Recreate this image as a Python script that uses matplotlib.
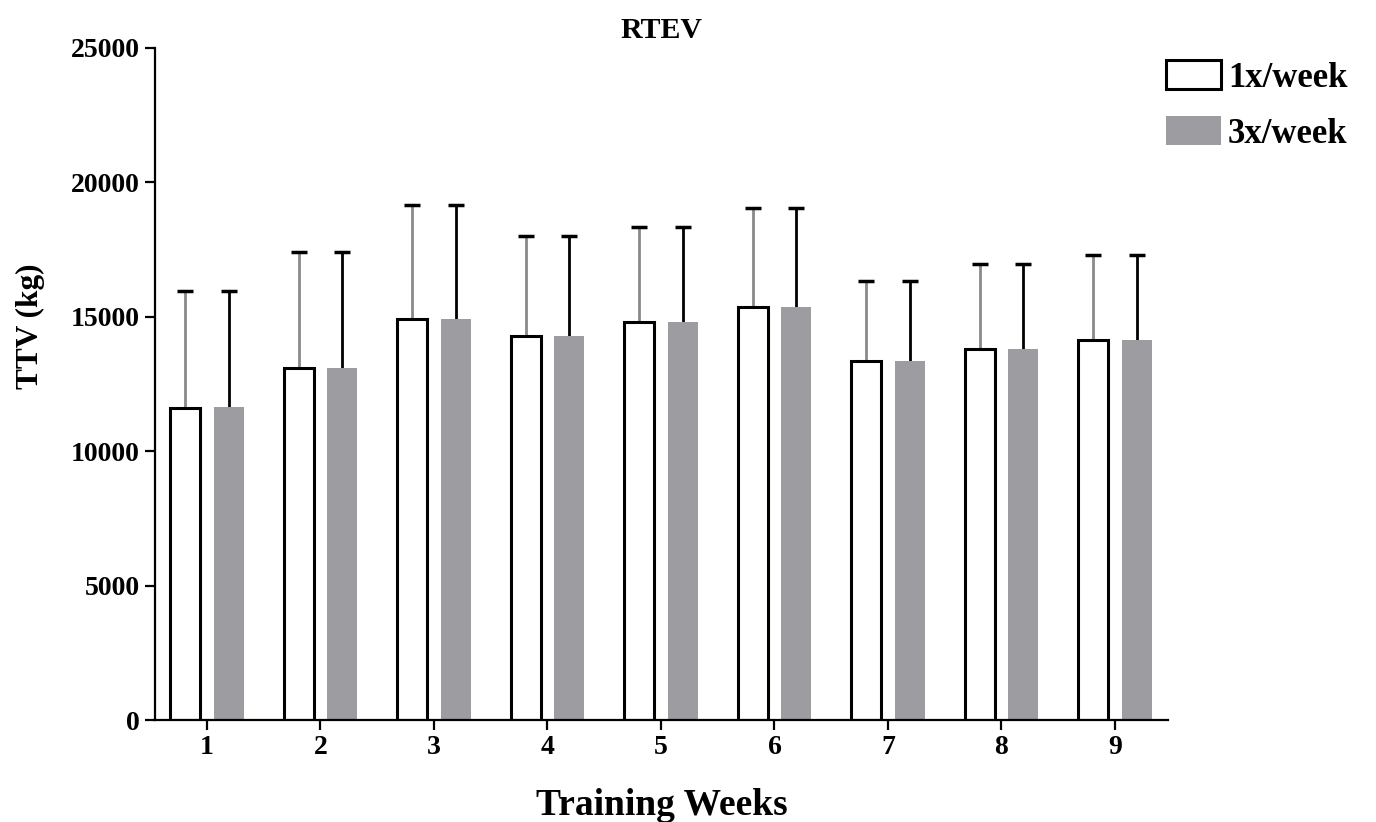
import numpy as np
import matplotlib
matplotlib.use("Agg")
import matplotlib.pyplot as plt

weeks = [1, 2, 3, 4, 5, 6, 7, 8, 9]
once_mean = [11600, 13100, 14900, 14300, 14800, 15350, 13350, 13800, 14150]
once_sd = [4350, 4300, 4250, 3700, 3550, 3700, 3000, 3150, 3150]
thrice_mean = [11650, 13100, 14900, 14300, 14800, 15350, 13350, 13800, 14150]
thrice_sd = [4300, 4300, 4250, 3700, 3550, 3700, 3000, 3150, 3150]
labels = ["1x/week", "3x/week"]

plt.rcParams['font.family'] = ['Liberation Serif', 'DejaVu Serif']
plt.rcParams['font.weight'] = 'bold'

gray = '#9c9ca1'
fig = plt.figure(figsize=(13.76, 8.22), dpi=100)
# left spine at 155 px, right end 1168 px, bottom 720 px, top 48 px
ax = fig.add_axes([155 / 1376, 102 / 822, 1013 / 1376, 672 / 822])

x = np.array(weeks, dtype=float)
w = 0.265
off = 0.19

b1 = ax.bar(x - off, once_mean, w, facecolor='white', edgecolor='black',
            linewidth=2.2, label=labels[0], zorder=2)
b2 = ax.bar(x + off, thrice_mean, w, facecolor=gray, edgecolor=gray,
            linewidth=0, label=labels[1], zorder=2)

for xs, m, s, lc in [(x - off, once_mean, once_sd, '#8a8a8a'),
                     (x + off, thrice_mean, thrice_sd, 'black')]:
    _, caps, bars = ax.errorbar(xs, m, yerr=[np.zeros(len(s)), s], fmt='none',
                                ecolor=lc, elinewidth=2.0, capsize=5.5,
                                capthick=2.5, zorder=1)
    caps[0].set_visible(False)
    for c in caps:
        c.set_markeredgecolor('black')

ax.set_xlim(0.542, 9.467)
ax.set_ylim(0, 25000)
ax.set_yticks([0, 5000, 10000, 15000, 20000, 25000])
ax.set_xticks(weeks)
for sp in ['top', 'right']:
    ax.spines[sp].set_visible(False)
for sp in ['left', 'bottom']:
    ax.spines[sp].set_linewidth(1.6)
ax.tick_params(direction='out', length=7, width=1.6, labelsize=20, pad=4)

ax.set_title('RTEV', fontsize=21.5, fontweight='bold', pad=7)
ax.set_xlabel('Training Weeks', fontsize=27, fontweight='bold', labelpad=20)
ax.set_ylabel('TTV (kg)', fontsize=22.5, fontweight='bold')
ax.yaxis.set_label_coords(-0.109, 0.586)

fig.legend(handles=[b1, b2], labels=labels, loc='upper left',
           bbox_to_anchor=(1166 / 1376, 1 - 60 / 822), frameon=False,
           fontsize=25, handlelength=1.58, handleheight=0.92,
           labelspacing=0.62, handletextpad=0.2, borderaxespad=0,
           borderpad=0)

fig.savefig('out.png', dpi=100)
